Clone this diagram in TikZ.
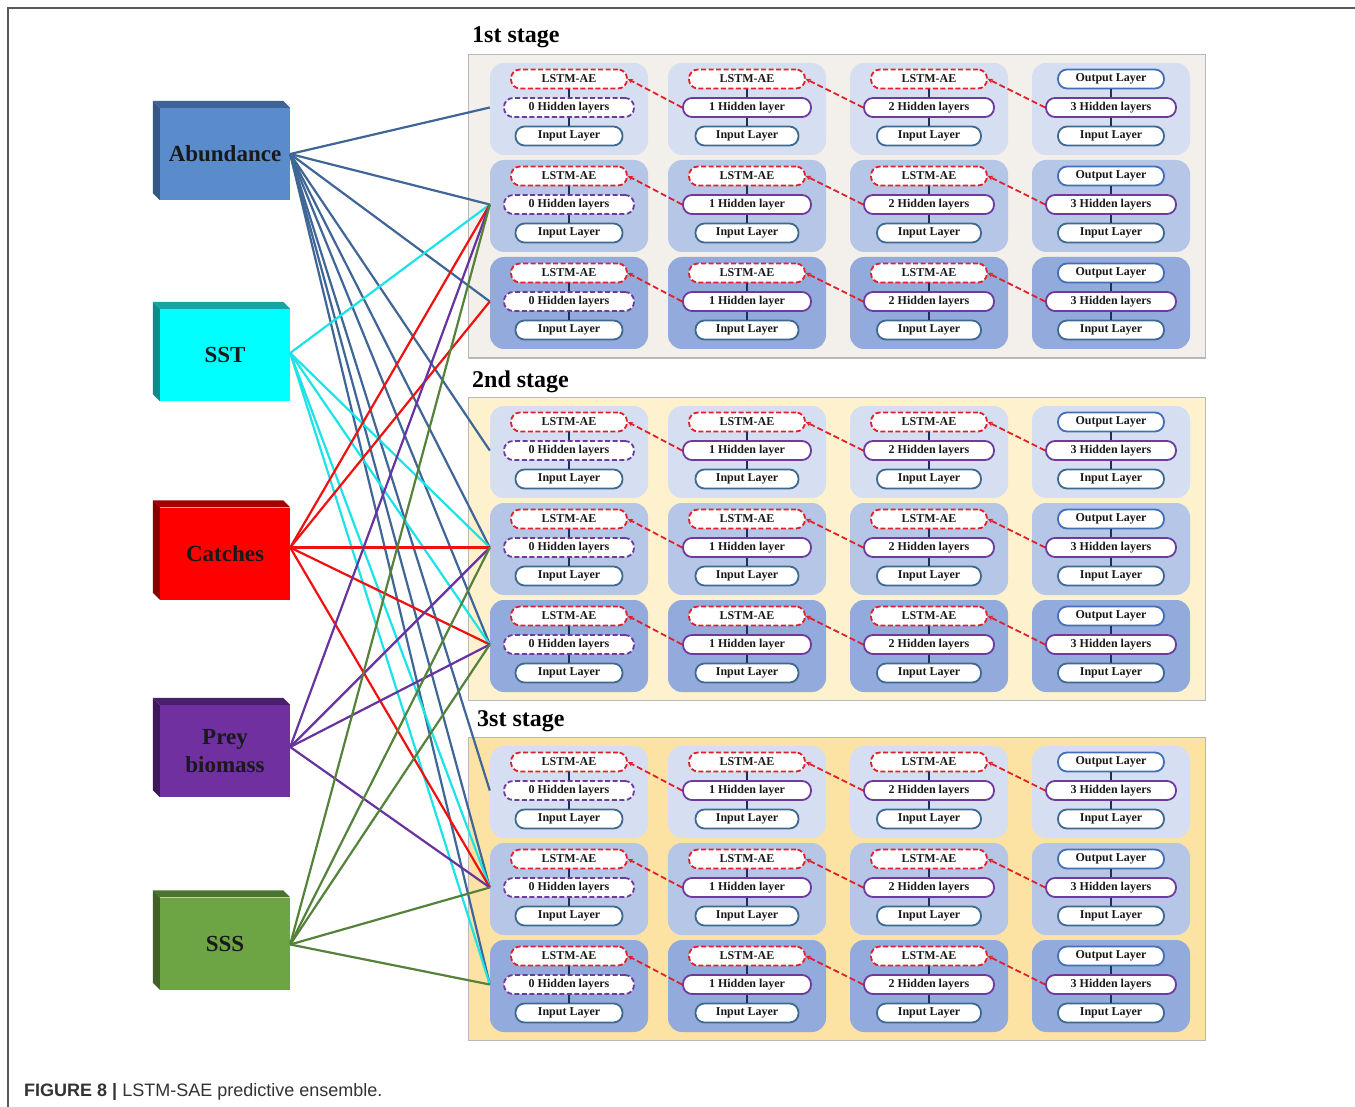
\documentclass[tikz,border=0pt]{standalone}
\usepackage{fontspec}
\setmainfont{Liberation Serif}
\newfontfamily\capfnt{Liberation Sans}
\usetikzlibrary{calc,arrows.meta}
\definecolor{abF}{HTML}{5A8BCB}
\definecolor{abT}{HTML}{3D6494}
\definecolor{abS}{HTML}{345783}
\definecolor{abL}{HTML}{3F6696}
\definecolor{sstF}{HTML}{00FFFF}
\definecolor{sstT}{HTML}{15A3A3}
\definecolor{sstS}{HTML}{0E8C8C}
\definecolor{sstL}{HTML}{1CE3E8}
\definecolor{caF}{HTML}{FF0000}
\definecolor{caT}{HTML}{A50000}
\definecolor{caS}{HTML}{8A0000}
\definecolor{caL}{HTML}{F01010}
\definecolor{prF}{HTML}{7030A0}
\definecolor{prT}{HTML}{4A1F6E}
\definecolor{prS}{HTML}{3D195C}
\definecolor{prL}{HTML}{6633A0}
\definecolor{ssF}{HTML}{6DA544}
\definecolor{ssT}{HTML}{4B7330}
\definecolor{ssS}{HTML}{3F6128}
\definecolor{ssL}{HTML}{55823A}
\definecolor{stA}{HTML}{F3EFEA}
\definecolor{stB}{HTML}{FEF1CE}
\definecolor{stC}{HTML}{FCE3A4}
\definecolor{rowA}{HTML}{D6DFF2}
\definecolor{rowB}{HTML}{B6C6E7}
\definecolor{rowC}{HTML}{93AADC}
\definecolor{lstmred}{HTML}{E2202A}
\definecolor{hidpurple}{HTML}{6E3A9E}
\definecolor{inblue}{HTML}{3E6A92}
\definecolor{outblue}{HTML}{4270B8}
\definecolor{vline}{HTML}{1F2F5A}
\newcommand\pillfnt{\fontsize{12}{14}\selectfont\bfseries}
\newcommand\srcfnt{\fontsize{23}{28}\selectfont\bfseries}
\newcommand\stgfnt{\fontsize{24}{26}\selectfont\bfseries}
\begin{document}
\begin{tikzpicture}[x=1pt,y=-1pt,
  pill/.style={rectangle, rounded corners=9pt, minimum height=19pt, inner sep=0pt, fill=white, line width=1.8pt, text=black!90, font=\pillfnt},
  lstm/.style={pill, draw=lstmred, dash pattern=on 5pt off 2.5pt},
  hidd/.style={pill, draw=hidpurple},
  hiddash/.style={pill, draw=hidpurple, dash pattern=on 5pt off 2.5pt},
  inlay/.style={pill, draw=inblue},
  outlay/.style={pill, draw=outblue},
  cellbox/.style={rectangle, rounded corners=14pt, minimum width=158pt, minimum height=92pt, inner sep=0pt},
  panel/.style={rectangle, minimum width=737pt, minimum height=303pt, inner sep=0pt, draw=black!28, line width=1pt},
  stagelbl/.style={anchor=west, font=\stgfnt, inner sep=0pt},
  srcbox/.style={rectangle, minimum width=130pt, minimum height=92pt, inner sep=0pt, font=\srcfnt, text=black!90, align=center},
  vconn/.style={draw=vline, line width=1.2pt},
  redarrow/.style={draw=lstmred, line width=1.8pt, dash pattern=on 6pt off 3pt, -{Stealth[length=5pt,width=5pt]}},
  conn/.style={line width=2.2pt}
]
\useasboundingbox (0,0) rectangle (1355,1107);
\fill[white] (0,0) rectangle (1355,1107);
\draw[line width=1.4pt, black!65] (8,1107) -- (8,8) -- (1355,8);

% stage panels
\node[panel, fill=stA] (p1) at (836.5,206.5) {};
\node[panel, fill=stB] (p2) at (836.5,549) {};
\node[panel, fill=stC] (p3) at (836.5,889) {};
\node[stagelbl] (l1) at (472,37) {1st stage};
\node[stagelbl] (l2) at (472,382) {2nd stage};
\node[stagelbl] (l3) at (477,721) {3st stage};

% cells and pills
\foreach \st/\Ttop in {1/63,2/406,3/746}{
 \foreach \rw/\rc in {1/rowA,2/rowB,3/rowC}{
  \pgfmathsetmacro\yt{\Ttop+97*(\rw-1)}
  \foreach \cl/\cx/\wt/\wm/\wb/\tsty/\ttext/\msty/\mtext in {
    1/569/116/130/107/lstm/LSTM-AE/hiddash/0 Hidden layers,
    2/747/116/128/103/lstm/LSTM-AE/hidd/1 Hidden layer,
    3/929/116/130/104/lstm/LSTM-AE/hidd/2 Hidden layers,
    4/1111/106/130/106/outlay/Output Layer/hidd/3 Hidden layers}{
    \node[cellbox, fill=\rc] (c\st\rw\cl) at (\cx,\yt+46) {};
    \node[\tsty, minimum width=\wt pt] (t\st\rw\cl) at (\cx,\yt+16) {\ttext};
    \node[\msty, minimum width=\wm pt] (m\st\rw\cl) at (\cx,\yt+44.5) {\mtext};
    \node[inlay, minimum width=\wb pt] (b\st\rw\cl) at (\cx,\yt+73) {Input Layer};
    \draw[vconn] (t\st\rw\cl.south) -- (m\st\rw\cl.north);
    \draw[vconn] (m\st\rw\cl.south) -- (b\st\rw\cl.north);
  }
  \coordinate (e\st\rw) at (c\st\rw1.west |- m\st\rw1.center);
  \foreach \a/\b in {1/2,2/3,3/4}{
    \draw[redarrow] (m\st\rw\b.west) -- (t\st\rw\a.east);
  }
 }
}

% source boxes
\node[srcbox, fill=abF] (ab) at (225,154) {Abundance};
\node[srcbox, fill=sstF] (sst) at (225,355) {SST};
\node[srcbox, fill=caF] (ca) at (225,553.5) {Catches};
\node[srcbox, fill=prF] (pr) at (225,751) {Prey\\biomass};
\node[srcbox, fill=ssF] (ss) at (225,943.5) {SSS};
\foreach \n/\tc/\sc in {ab/abT/abS, sst/sstT/sstS, ca/caT/caS, pr/prT/prS, ss/ssT/ssS}{
  \fill[\tc] (\n.north west) -- ++(-7,-7) -- ($(\n.north east)+(-7,-7)$) -- (\n.north east) -- cycle;
  \fill[\sc] (\n.north west) -- ++(-7,-7) -- ($(\n.south west)+(-7,-7)$) -- (\n.south west) -- cycle;
}
\coordinate (abo) at (ab.east);
\coordinate (ssto) at ([yshift=2pt]sst.east);
\coordinate (cao) at ([yshift=6pt]ca.east);
\coordinate (pro) at ([yshift=4pt]pr.east);
\coordinate (sso) at ([yshift=-1pt]ss.east);

% connectors
\foreach \e in {11,12,13,21,22,23,31,32,33} \draw[conn, abL] (abo) -- (e\e);
\foreach \e in {12,22,23,32,33} \draw[conn, sstL] (ssto) -- (e\e);
\foreach \e in {12,13,22,23,32} \draw[conn, caL] (cao) -- (e\e);
\foreach \e in {12,22,23,32} \draw[conn, prL] (pro) -- (e\e);
\foreach \e in {12,22,23,32,33} \draw[conn, ssL] (sso) -- (e\e);

% caption
\node[anchor=west, inner sep=0pt, font=\capfnt\fontsize{18}{20}\selectfont, text=black!80] (cap) at (24,1092) {\textbf{FIGURE 8 |} LSTM-SAE predictive ensemble.};
\end{tikzpicture}
\end{document}
